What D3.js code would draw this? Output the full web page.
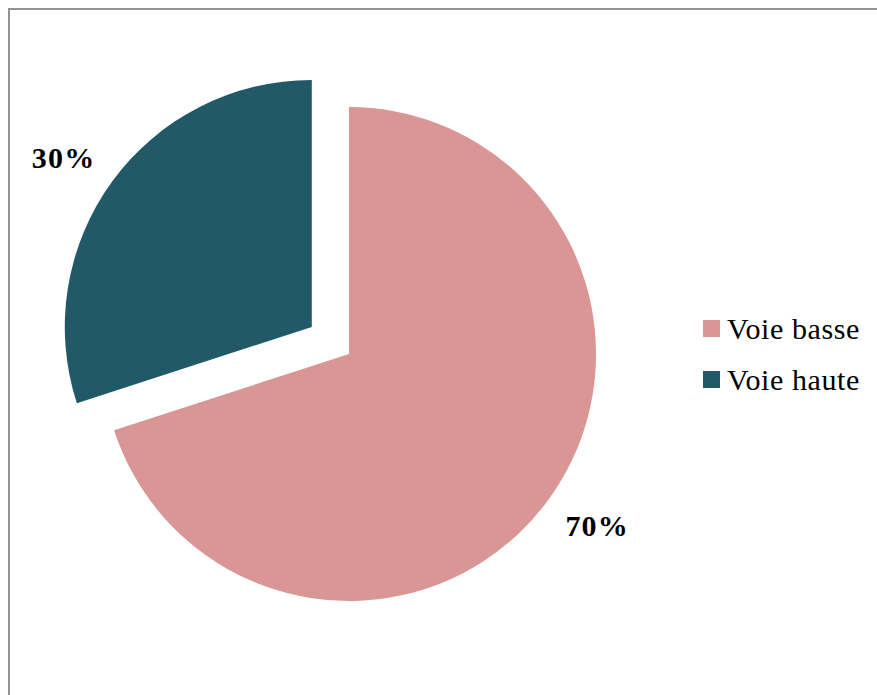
<!DOCTYPE html>
<html>
<head>
<meta charset="utf-8">
<script src="https://cdn.jsdelivr.net/npm/d3@7"></script>
<style>
  html, body { margin: 0; padding: 0; background: #fff; }
  svg { display: block; }
</style>
</head>
<body>
<svg id="chart" width="877" height="695"></svg>
<script>
// Share of traffic by lane
const categories = ["Voie basse", "Voie haute"];
const values = [70, 30];
const labels = ["70%", "30%"];
const colors = ["#D99694", "#215968"];
const exploded = [false, true];

const svg = d3.select("#chart");
const W = 877, H = 695;
const serif = "'Liberation Serif', 'Times New Roman', serif";

// Chart area frame (open on right and bottom)
svg.append("path")
  .attr("d", `M9,${H} L9,9 L${W},9`)
  .attr("fill", "none")
  .attr("stroke", "#939393")
  .attr("stroke-width", 2);

const cx = 349, cy = 354, radius = 247, explode = 46, labelR = 270;

const pie = d3.pie().sort(null).value(d => d)
  .startAngle(0).endAngle(2 * Math.PI);
const arcs = pie(values);
const arc = d3.arc().innerRadius(0).outerRadius(radius);

const g = svg.append("g").attr("transform", `translate(${cx},${cy})`);

function offset(d, i) {
  if (!exploded[i]) return [0, 0];
  const a = (d.startAngle + d.endAngle) / 2;
  return [Math.sin(a) * explode, -Math.cos(a) * explode];
}

g.selectAll("path.slice")
  .data(arcs)
  .join("path")
  .attr("class", "slice")
  .attr("d", arc)
  .attr("fill", (d, i) => colors[i])
  .attr("transform", (d, i) => `translate(${offset(d, i)})`);

// Outside-end data labels
g.selectAll("text.lbl")
  .data(arcs)
  .join("text")
  .attr("class", "lbl")
  .each(function (d, i) {
    const a = (d.startAngle + d.endAngle) / 2;
    const [ox, oy] = offset(d, i);
    const x = Math.sin(a) * labelR + ox;
    const y = -Math.cos(a) * labelR + oy;
    d3.select(this)
      .attr("x", x < 0 ? x + 2 : x - 2)
      .attr("y", y)
      .attr("text-anchor", x < 0 ? "end" : "start")
      .attr("dy", y < 0 ? "0" : "0.78em");
  })
  .attr("font-family", serif)
  .attr("font-weight", "bold")
  .attr("font-size", 30)
  .attr("letter-spacing", 1.2)
  .attr("fill", "#000")
  .text((d, i) => labels[i]);

// Legend
const legend = svg.append("g").attr("transform", "translate(703,320)");
const rows = legend.selectAll("g")
  .data(categories)
  .join("g")
  .attr("transform", (d, i) => `translate(0,${i * 51})`);
rows.append("rect")
  .attr("width", 17).attr("height", 17)
  .attr("fill", (d, i) => colors[i]);
rows.append("text")
  .attr("x", 24).attr("y", 19)
  .attr("font-family", serif)
  .attr("font-size", 30)
  .attr("letter-spacing", 0.6)
  .attr("fill", "#000")
  .text(d => d);
</script>
</body>
</html>
